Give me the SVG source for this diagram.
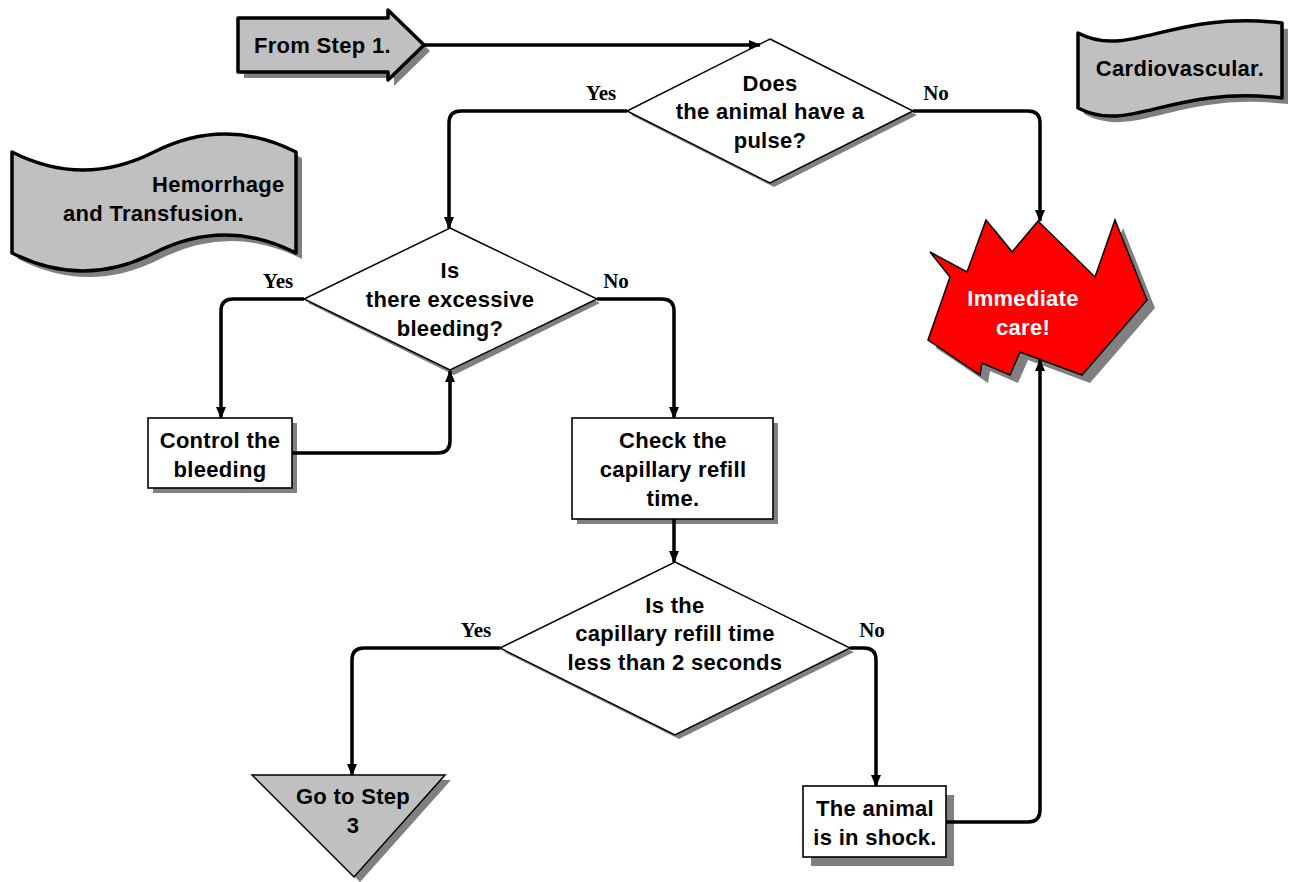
<svg xmlns="http://www.w3.org/2000/svg" width="1289" height="882" viewBox="0 0 1289 882">
<style>
.t{font-family:"Liberation Sans",Arial,sans-serif;font-weight:bold;font-size:22px;letter-spacing:0.3px;fill:#000;text-anchor:middle}
.w{fill:#fff}
.lbl{font-family:"Liberation Serif","Times New Roman",serif;font-weight:bold;font-size:21px;fill:#000;text-anchor:middle}
.sh{fill:#808080;stroke:none}
.box{fill:#fff;stroke:#000;stroke-width:1.6}
.dia{fill:#fff;stroke:#000;stroke-width:1.5}
.gray{fill:#c0c0c0;stroke:#000;stroke-width:3.5;stroke-linejoin:round}
.conn{fill:none;stroke:#000;stroke-width:3.5}
</style>
<defs>
<marker id="ah" markerWidth="12" markerHeight="12" viewBox="0 0 12 12" refX="11" refY="6" orient="auto" markerUnits="userSpaceOnUse">
<path d="M0,1 L12,6 L0,11 Z" fill="#000"/>
</marker>
</defs>
<rect width="1289" height="882" fill="#fff"/>

<g id="from-step-1">
<polygon class="sh" points="244,24 394,24 394,16 430,51 394,86 394,78 244,78"/>
<polygon class="gray" points="238,18 388,18 388,10 424,45 388,80 388,72 238,72"/>
<text class="t" x="254" y="53" style="text-anchor:start">From Step 1.</text>
</g>

<g id="cardiovascular">
<path class="sh" d="M1084,39 C1136,66 1176,16 1288,29 L1288,104 C1176,91 1136,141 1084,114 Z"/>
<path class="gray" d="M1078,33 C1130,60 1170,10 1282,23 L1282,98 C1170,85 1130,135 1078,108 Z"/>
<text class="t" x="1180" y="76">Cardiovascular.</text>
</g>

<g id="hemorrhage">
<path class="sh" d="M18,158 Q89,194 160,158 T302,158 L302,259 Q231,223 160,259 T18,259 Z"/>
<path class="gray" d="M12,152 Q83,188 154,152 T296,152 L296,253 Q225,217 154,253 T12,253 Z"/>
<text class="t" x="152" y="192" style="text-anchor:start">Hemorrhage</text>
<text class="t" x="63" y="221" style="text-anchor:start">and Transfusion.</text>
</g>

<g id="d-pulse">
<polygon class="sh" points="770,43 917,115 774,187 631,115"/>
<polygon class="dia" points="770,39 913,111 770,183 627,111"/>
<text class="t" x="770" y="91">Does</text>
<text class="t" x="770" y="119">the animal have a</text>
<text class="t" x="770" y="148">pulse?</text>
</g>

<g id="immediate-care">
<polygon class="sh" points="1046,229 1103,285 1123,228 1155,308 1090,383 1028,360 1018,383 990,371 988,383 936,348 958,285 938,260 975,280 994,228 1020,260"/>
<polygon points="1038,221 1095,277 1115,220 1147,300 1082,375 1020,352 1010,375 982,363 980,375 928,340 950,277 930,252 967,272 986,220 1012,252" fill="#ff0000" stroke="#000" stroke-width="1.5"/>
<text class="t w" x="1023" y="306">Immediate</text>
<text class="t w" x="1023" y="335">care!</text>
</g>

<g id="d-bleeding">
<polygon class="sh" points="450,232 600,303 454,375 308,303"/>
<polygon class="dia" points="450,228 597,299 450,370 304,299"/>
<text class="t" x="450" y="278">Is</text>
<text class="t" x="450" y="307">there excessive</text>
<text class="t" x="450" y="336">bleeding?</text>
</g>

<g id="control-bleeding">
<rect class="sh" x="153" y="423" width="144" height="70"/>
<rect class="box" x="148" y="418" width="144" height="70"/>
<text class="t" x="220" y="448">Control the</text>
<text class="t" x="220" y="477">bleeding</text>
</g>

<g id="check-crt">
<rect class="sh" x="577" y="423" width="201" height="101"/>
<rect class="box" x="572" y="418" width="201" height="101"/>
<text class="t" x="673" y="448">Check the</text>
<text class="t" x="673" y="477">capillary refill</text>
<text class="t" x="673" y="506">time.</text>
</g>

<g id="d-crt">
<polygon class="sh" points="675,566 854,652 679,739 504,652"/>
<polygon class="dia" points="675,562 850,648 675,735 500,648"/>
<text class="t" x="675" y="613">Is the</text>
<text class="t" x="675" y="641">capillary refill time</text>
<text class="t" x="675" y="670">less than 2 seconds</text>
</g>

<g id="go-to-step-3">
<polygon class="sh" points="258,780 451,780 360,882"/>
<polygon points="252,775 445,775 354,877" fill="#c0c0c0" stroke="#000" stroke-width="1.5"/>
<text class="t" x="353" y="804">Go to Step</text>
<text class="t" x="353" y="833">3</text>
</g>

<g id="shock">
<rect class="sh" x="811" y="795" width="143" height="71"/>
<rect class="box" x="803" y="786" width="143" height="71"/>
<text class="t" x="875" y="816">The animal</text>
<text class="t" x="875" y="845">is in shock.</text>
</g>

<g id="connectors">
<path class="conn" d="M424,45 L760,45" marker-end="url(#ah)"/>
<path class="conn" d="M627,111 L461,111 Q449,111 449,123 L449,228" marker-end="url(#ah)"/>
<path class="conn" d="M913,111 L1028,111 Q1040,111 1040,123 L1040,221" marker-end="url(#ah)"/>
<path class="conn" d="M304,299 L233,299 Q221,299 221,311 L221,418" marker-end="url(#ah)"/>
<path class="conn" d="M597,299 L662,299 Q674,299 674,311 L674,418" marker-end="url(#ah)"/>
<path class="conn" d="M292,453 L438,453 Q450,453 450,441 L450,371" marker-end="url(#ah)"/>
<path class="conn" d="M674,519 L674,562" marker-end="url(#ah)"/>
<path class="conn" d="M500,648 L364,648 Q352,648 352,660 L352,775" marker-end="url(#ah)"/>
<path class="conn" d="M850,648 L864,648 Q876,648 876,660 L876,786" marker-end="url(#ah)"/>
<path class="conn" d="M946,822 L1028,822 Q1040,822 1040,810 L1040,360" marker-end="url(#ah)"/>
</g>

<g id="labels">
<text class="lbl" x="601" y="100">Yes</text>
<text class="lbl" x="936" y="100">No</text>
<text class="lbl" x="278" y="288">Yes</text>
<text class="lbl" x="616" y="288">No</text>
<text class="lbl" x="476" y="637">Yes</text>
<text class="lbl" x="872" y="637">No</text>
</g>
</svg>
